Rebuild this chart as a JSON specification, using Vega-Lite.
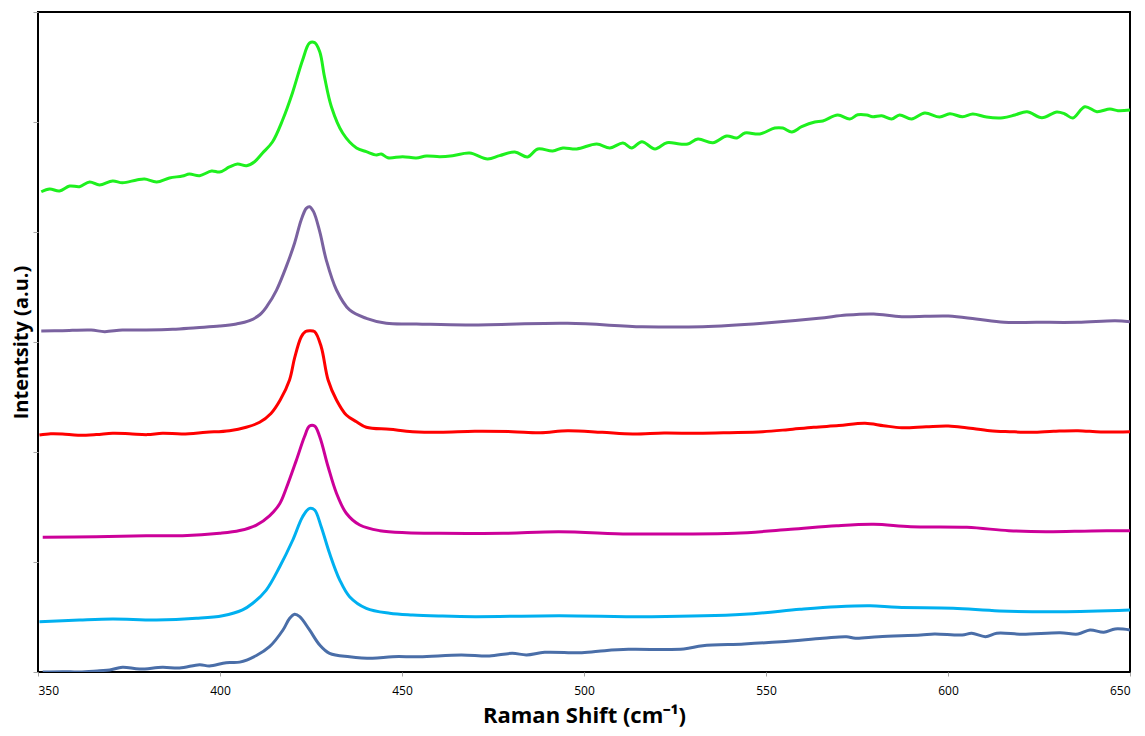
{
  "$schema": "https://vega.github.io/schema/vega-lite/v6.json",
  "autosize": "none",
  "width": 1092,
  "height": 660,
  "padding": {"left": 38, "top": 12, "right": 15, "bottom": 64},
  "background": "white",
  "config": {
    "view": {"stroke": "#000000", "strokeWidth": 2},
    "font": "Open Sans"
  },
  "datasets": {
    "spectra": [
      {"s": "G", "x": 350.9, "y": 4.366}, {"s": "G", "x": 353.2, "y": 4.391}, {"s": "G", "x": 355.9, "y": 4.373}, {"s": "G", "x": 358.7, "y": 4.418}, {"s": "G", "x": 361.4, "y": 4.412}, {"s": "G", "x": 364.2, "y": 4.455}, {"s": "G", "x": 366.9, "y": 4.427}, {"s": "G", "x": 370.5, "y": 4.464}, {"s": "G", "x": 373.2, "y": 4.448}, {"s": "G", "x": 377.1, "y": 4.473}, {"s": "G", "x": 379.3, "y": 4.482}, {"s": "G", "x": 382.6, "y": 4.455}, {"s": "G", "x": 386.1, "y": 4.491}, {"s": "G", "x": 389.7, "y": 4.509}, {"s": "G", "x": 391.6, "y": 4.527}, {"s": "G", "x": 394.4, "y": 4.512}, {"s": "G", "x": 397.7, "y": 4.555}, {"s": "G", "x": 399.9, "y": 4.545}, {"s": "G", "x": 402.6, "y": 4.591}, {"s": "G", "x": 404.8, "y": 4.618}, {"s": "G", "x": 407.3, "y": 4.603}, {"s": "G", "x": 409.5, "y": 4.639}, {"s": "G", "x": 411.7, "y": 4.718}, {"s": "G", "x": 414.4, "y": 4.818}, {"s": "G", "x": 417.2, "y": 5.018}, {"s": "G", "x": 419.9, "y": 5.264}, {"s": "G", "x": 422.7, "y": 5.564}, {"s": "G", "x": 424.6, "y": 5.718}, {"s": "G", "x": 426.0, "y": 5.721}, {"s": "G", "x": 427.4, "y": 5.639}, {"s": "G", "x": 428.7, "y": 5.412}, {"s": "G", "x": 430.6, "y": 5.139}, {"s": "G", "x": 433.7, "y": 4.9}, {"s": "G", "x": 437.5, "y": 4.764}, {"s": "G", "x": 440.2, "y": 4.73}, {"s": "G", "x": 443.0, "y": 4.7}, {"s": "G", "x": 444.3, "y": 4.709}, {"s": "G", "x": 446.1, "y": 4.675}, {"s": "G", "x": 450.2, "y": 4.685}, {"s": "G", "x": 453.9, "y": 4.673}, {"s": "G", "x": 456.7, "y": 4.691}, {"s": "G", "x": 460.4, "y": 4.685}, {"s": "G", "x": 463.9, "y": 4.694}, {"s": "G", "x": 468.6, "y": 4.718}, {"s": "G", "x": 473.5, "y": 4.664}, {"s": "G", "x": 476.8, "y": 4.694}, {"s": "G", "x": 481.0, "y": 4.727}, {"s": "G", "x": 484.5, "y": 4.682}, {"s": "G", "x": 487.3, "y": 4.755}, {"s": "G", "x": 491.4, "y": 4.736}, {"s": "G", "x": 494.2, "y": 4.764}, {"s": "G", "x": 498.0, "y": 4.755}, {"s": "G", "x": 503.5, "y": 4.8}, {"s": "G", "x": 507.1, "y": 4.764}, {"s": "G", "x": 510.7, "y": 4.809}, {"s": "G", "x": 513.1, "y": 4.764}, {"s": "G", "x": 515.9, "y": 4.821}, {"s": "G", "x": 519.5, "y": 4.755}, {"s": "G", "x": 522.8, "y": 4.812}, {"s": "G", "x": 526.3, "y": 4.8}, {"s": "G", "x": 528.5, "y": 4.8}, {"s": "G", "x": 531.3, "y": 4.845}, {"s": "G", "x": 535.4, "y": 4.812}, {"s": "G", "x": 539.2, "y": 4.873}, {"s": "G", "x": 542.0, "y": 4.855}, {"s": "G", "x": 544.2, "y": 4.9}, {"s": "G", "x": 548.3, "y": 4.891}, {"s": "G", "x": 552.4, "y": 4.945}, {"s": "G", "x": 554.6, "y": 4.945}, {"s": "G", "x": 557.1, "y": 4.909}, {"s": "G", "x": 559.8, "y": 4.957}, {"s": "G", "x": 563.4, "y": 5.0}, {"s": "G", "x": 565.6, "y": 5.009}, {"s": "G", "x": 569.7, "y": 5.064}, {"s": "G", "x": 573.0, "y": 5.027}, {"s": "G", "x": 575.2, "y": 5.066}, {"s": "G", "x": 577.7, "y": 5.064}, {"s": "G", "x": 579.3, "y": 5.048}, {"s": "G", "x": 581.8, "y": 5.057}, {"s": "G", "x": 584.5, "y": 5.027}, {"s": "G", "x": 586.7, "y": 5.064}, {"s": "G", "x": 590.0, "y": 5.027}, {"s": "G", "x": 593.6, "y": 5.082}, {"s": "G", "x": 597.7, "y": 5.045}, {"s": "G", "x": 600.5, "y": 5.075}, {"s": "G", "x": 604.0, "y": 5.048}, {"s": "G", "x": 606.8, "y": 5.073}, {"s": "G", "x": 610.6, "y": 5.045}, {"s": "G", "x": 615.1, "y": 5.039}, {"s": "G", "x": 618.4, "y": 5.064}, {"s": "G", "x": 621.7, "y": 5.094}, {"s": "G", "x": 625.8, "y": 5.039}, {"s": "G", "x": 629.9, "y": 5.091}, {"s": "G", "x": 632.1, "y": 5.073}, {"s": "G", "x": 634.3, "y": 5.036}, {"s": "G", "x": 637.6, "y": 5.139}, {"s": "G", "x": 640.9, "y": 5.094}, {"s": "G", "x": 644.5, "y": 5.118}, {"s": "G", "x": 646.7, "y": 5.103}, {"s": "G", "x": 650.0, "y": 5.109},

      {"s": "P", "x": 350.9, "y": 3.1}, {"s": "P", "x": 356.7, "y": 3.103}, {"s": "P", "x": 364.6, "y": 3.109}, {"s": "P", "x": 368.3, "y": 3.094}, {"s": "P", "x": 373.2, "y": 3.109}, {"s": "P", "x": 379.7, "y": 3.109}, {"s": "P", "x": 387.0, "y": 3.115}, {"s": "P", "x": 393.5, "y": 3.13}, {"s": "P", "x": 399.9, "y": 3.145}, {"s": "P", "x": 404.5, "y": 3.164}, {"s": "P", "x": 408.1, "y": 3.194}, {"s": "P", "x": 411.0, "y": 3.25}, {"s": "P", "x": 413.0, "y": 3.33}, {"s": "P", "x": 415.5, "y": 3.47}, {"s": "P", "x": 418.2, "y": 3.685}, {"s": "P", "x": 420.5, "y": 3.9}, {"s": "P", "x": 422.3, "y": 4.109}, {"s": "P", "x": 423.7, "y": 4.215}, {"s": "P", "x": 424.6, "y": 4.23}, {"s": "P", "x": 425.7, "y": 4.185}, {"s": "P", "x": 427.4, "y": 4.003}, {"s": "P", "x": 429.2, "y": 3.745}, {"s": "P", "x": 432.0, "y": 3.473}, {"s": "P", "x": 435.6, "y": 3.291}, {"s": "P", "x": 440.2, "y": 3.215}, {"s": "P", "x": 445.7, "y": 3.17}, {"s": "P", "x": 454.0, "y": 3.164}, {"s": "P", "x": 467.5, "y": 3.155}, {"s": "P", "x": 495.5, "y": 3.17}, {"s": "P", "x": 516.0, "y": 3.139}, {"s": "P", "x": 532.6, "y": 3.139}, {"s": "P", "x": 549.1, "y": 3.17}, {"s": "P", "x": 564.5, "y": 3.215}, {"s": "P", "x": 572.1, "y": 3.245}, {"s": "P", "x": 579.6, "y": 3.255}, {"s": "P", "x": 587.3, "y": 3.23}, {"s": "P", "x": 600.1, "y": 3.236}, {"s": "P", "x": 607.7, "y": 3.209}, {"s": "P", "x": 615.4, "y": 3.179}, {"s": "P", "x": 624.3, "y": 3.179}, {"s": "P", "x": 635.7, "y": 3.179}, {"s": "P", "x": 645.9, "y": 3.194}, {"s": "P", "x": 650.0, "y": 3.185},

      {"s": "R", "x": 350.4, "y": 2.155}, {"s": "R", "x": 353.5, "y": 2.166}, {"s": "R", "x": 356.7, "y": 2.164}, {"s": "R", "x": 361.0, "y": 2.152}, {"s": "R", "x": 366.0, "y": 2.158}, {"s": "R", "x": 370.5, "y": 2.17}, {"s": "R", "x": 375.1, "y": 2.166}, {"s": "R", "x": 380.0, "y": 2.158}, {"s": "R", "x": 384.2, "y": 2.17}, {"s": "R", "x": 389.7, "y": 2.164}, {"s": "R", "x": 396.2, "y": 2.179}, {"s": "R", "x": 402.6, "y": 2.194}, {"s": "R", "x": 407.2, "y": 2.225}, {"s": "R", "x": 410.9, "y": 2.27}, {"s": "R", "x": 414.0, "y": 2.35}, {"s": "R", "x": 416.5, "y": 2.47}, {"s": "R", "x": 419.1, "y": 2.655}, {"s": "R", "x": 420.5, "y": 2.855}, {"s": "R", "x": 422.3, "y": 3.045}, {"s": "R", "x": 423.5, "y": 3.095}, {"s": "R", "x": 424.6, "y": 3.103}, {"s": "R", "x": 426.0, "y": 3.094}, {"s": "R", "x": 427.8, "y": 2.957}, {"s": "R", "x": 429.7, "y": 2.655}, {"s": "R", "x": 432.0, "y": 2.473}, {"s": "R", "x": 434.7, "y": 2.336}, {"s": "R", "x": 437.5, "y": 2.275}, {"s": "R", "x": 440.2, "y": 2.225}, {"s": "R", "x": 446.6, "y": 2.206}, {"s": "R", "x": 452.9, "y": 2.185}, {"s": "R", "x": 460.4, "y": 2.179}, {"s": "R", "x": 470.0, "y": 2.188}, {"s": "R", "x": 480.3, "y": 2.185}, {"s": "R", "x": 488.0, "y": 2.176}, {"s": "R", "x": 495.5, "y": 2.194}, {"s": "R", "x": 505.0, "y": 2.179}, {"s": "R", "x": 513.4, "y": 2.164}, {"s": "R", "x": 522.0, "y": 2.173}, {"s": "R", "x": 531.3, "y": 2.17}, {"s": "R", "x": 540.0, "y": 2.176}, {"s": "R", "x": 549.1, "y": 2.185}, {"s": "R", "x": 556.0, "y": 2.203}, {"s": "R", "x": 563.1, "y": 2.225}, {"s": "R", "x": 570.0, "y": 2.24}, {"s": "R", "x": 577.2, "y": 2.261}, {"s": "R", "x": 582.3, "y": 2.239}, {"s": "R", "x": 587.3, "y": 2.221}, {"s": "R", "x": 594.0, "y": 2.23}, {"s": "R", "x": 600.1, "y": 2.236}, {"s": "R", "x": 605.0, "y": 2.221}, {"s": "R", "x": 611.5, "y": 2.194}, {"s": "R", "x": 617.0, "y": 2.185}, {"s": "R", "x": 623.0, "y": 2.179}, {"s": "R", "x": 629.0, "y": 2.188}, {"s": "R", "x": 635.7, "y": 2.194}, {"s": "R", "x": 642.0, "y": 2.182}, {"s": "R", "x": 650.0, "y": 2.185},

      {"s": "M", "x": 351.3, "y": 1.225}, {"s": "M", "x": 366.0, "y": 1.23}, {"s": "M", "x": 379.7, "y": 1.239}, {"s": "M", "x": 389.7, "y": 1.239}, {"s": "M", "x": 399.9, "y": 1.261}, {"s": "M", "x": 405.4, "y": 1.286}, {"s": "M", "x": 410.0, "y": 1.336}, {"s": "M", "x": 413.6, "y": 1.42}, {"s": "M", "x": 416.4, "y": 1.53}, {"s": "M", "x": 418.2, "y": 1.67}, {"s": "M", "x": 421.0, "y": 1.927}, {"s": "M", "x": 423.2, "y": 2.139}, {"s": "M", "x": 424.6, "y": 2.236}, {"s": "M", "x": 426.0, "y": 2.236}, {"s": "M", "x": 427.4, "y": 2.139}, {"s": "M", "x": 429.7, "y": 1.866}, {"s": "M", "x": 432.0, "y": 1.625}, {"s": "M", "x": 434.7, "y": 1.443}, {"s": "M", "x": 438.4, "y": 1.336}, {"s": "M", "x": 443.9, "y": 1.285}, {"s": "M", "x": 451.2, "y": 1.266}, {"s": "M", "x": 460.4, "y": 1.261}, {"s": "M", "x": 477.8, "y": 1.261}, {"s": "M", "x": 493.1, "y": 1.275}, {"s": "M", "x": 512.2, "y": 1.255}, {"s": "M", "x": 526.2, "y": 1.255}, {"s": "M", "x": 541.4, "y": 1.261}, {"s": "M", "x": 556.8, "y": 1.297}, {"s": "M", "x": 569.4, "y": 1.33}, {"s": "M", "x": 579.6, "y": 1.343}, {"s": "M", "x": 589.8, "y": 1.321}, {"s": "M", "x": 605.2, "y": 1.315}, {"s": "M", "x": 616.7, "y": 1.285}, {"s": "M", "x": 626.9, "y": 1.275}, {"s": "M", "x": 639.5, "y": 1.282}, {"s": "M", "x": 650.0, "y": 1.285},

      {"s": "C", "x": 350.4, "y": 0.457}, {"s": "C", "x": 361.4, "y": 0.473}, {"s": "C", "x": 370.5, "y": 0.482}, {"s": "C", "x": 382.5, "y": 0.473}, {"s": "C", "x": 393.5, "y": 0.488}, {"s": "C", "x": 400.7, "y": 0.512}, {"s": "C", "x": 406.2, "y": 0.565}, {"s": "C", "x": 409.0, "y": 0.625}, {"s": "C", "x": 412.7, "y": 0.745}, {"s": "C", "x": 416.4, "y": 0.957}, {"s": "C", "x": 420.0, "y": 1.2}, {"s": "C", "x": 422.7, "y": 1.412}, {"s": "C", "x": 424.6, "y": 1.488}, {"s": "C", "x": 426.0, "y": 1.473}, {"s": "C", "x": 427.8, "y": 1.321}, {"s": "C", "x": 430.1, "y": 1.079}, {"s": "C", "x": 432.9, "y": 0.836}, {"s": "C", "x": 435.6, "y": 0.685}, {"s": "C", "x": 440.2, "y": 0.579}, {"s": "C", "x": 446.6, "y": 0.534}, {"s": "C", "x": 452.9, "y": 0.518}, {"s": "C", "x": 460.4, "y": 0.509}, {"s": "C", "x": 470.1, "y": 0.503}, {"s": "C", "x": 493.1, "y": 0.512}, {"s": "C", "x": 518.6, "y": 0.503}, {"s": "C", "x": 544.0, "y": 0.525}, {"s": "C", "x": 559.3, "y": 0.57}, {"s": "C", "x": 569.4, "y": 0.594}, {"s": "C", "x": 578.6, "y": 0.603}, {"s": "C", "x": 586.1, "y": 0.588}, {"s": "C", "x": 601.4, "y": 0.579}, {"s": "C", "x": 614.1, "y": 0.555}, {"s": "C", "x": 630.8, "y": 0.548}, {"s": "C", "x": 650.0, "y": 0.564},

      {"s": "B", "x": 351.3, "y": 0.0}, {"s": "B", "x": 356.8, "y": 0.003}, {"s": "B", "x": 361.4, "y": 0.0}, {"s": "B", "x": 366.9, "y": 0.012}, {"s": "B", "x": 369.7, "y": 0.018}, {"s": "B", "x": 373.2, "y": 0.043}, {"s": "B", "x": 377.9, "y": 0.027}, {"s": "B", "x": 384.2, "y": 0.043}, {"s": "B", "x": 388.9, "y": 0.036}, {"s": "B", "x": 394.4, "y": 0.066}, {"s": "B", "x": 397.1, "y": 0.055}, {"s": "B", "x": 401.7, "y": 0.085}, {"s": "B", "x": 405.4, "y": 0.09}, {"s": "B", "x": 410.0, "y": 0.15}, {"s": "B", "x": 413.6, "y": 0.23}, {"s": "B", "x": 417.3, "y": 0.382}, {"s": "B", "x": 419.1, "y": 0.486}, {"s": "B", "x": 420.5, "y": 0.525}, {"s": "B", "x": 421.9, "y": 0.503}, {"s": "B", "x": 424.6, "y": 0.382}, {"s": "B", "x": 427.4, "y": 0.245}, {"s": "B", "x": 430.1, "y": 0.17}, {"s": "B", "x": 435.6, "y": 0.139}, {"s": "B", "x": 441.9, "y": 0.125}, {"s": "B", "x": 447.4, "y": 0.139}, {"s": "B", "x": 454.8, "y": 0.139}, {"s": "B", "x": 466.3, "y": 0.155}, {"s": "B", "x": 474.0, "y": 0.145}, {"s": "B", "x": 480.3, "y": 0.17}, {"s": "B", "x": 484.2, "y": 0.155}, {"s": "B", "x": 489.2, "y": 0.179}, {"s": "B", "x": 499.4, "y": 0.175}, {"s": "B", "x": 505.7, "y": 0.194}, {"s": "B", "x": 512.2, "y": 0.206}, {"s": "B", "x": 527.4, "y": 0.209}, {"s": "B", "x": 532.6, "y": 0.239}, {"s": "B", "x": 544.0, "y": 0.255}, {"s": "B", "x": 554.2, "y": 0.275}, {"s": "B", "x": 565.6, "y": 0.306}, {"s": "B", "x": 572.1, "y": 0.321}, {"s": "B", "x": 574.6, "y": 0.306}, {"s": "B", "x": 581.0, "y": 0.321}, {"s": "B", "x": 592.5, "y": 0.336}, {"s": "B", "x": 596.3, "y": 0.345}, {"s": "B", "x": 603.9, "y": 0.336}, {"s": "B", "x": 606.5, "y": 0.352}, {"s": "B", "x": 610.3, "y": 0.321}, {"s": "B", "x": 613.4, "y": 0.352}, {"s": "B", "x": 620.5, "y": 0.343}, {"s": "B", "x": 630.8, "y": 0.357}, {"s": "B", "x": 635.7, "y": 0.345}, {"s": "B", "x": 639.0, "y": 0.382}, {"s": "B", "x": 642.8, "y": 0.361}, {"s": "B", "x": 645.9, "y": 0.391}, {"s": "B", "x": 650.0, "y": 0.382}
    ]
  },
  "data": {"name": "spectra"},
  "mark": {"type": "line", "strokeWidth": 3, "interpolate": "catmull-rom", "clip": true},
  "encoding": {
    "x": {
      "field": "x",
      "type": "quantitative",
      "scale": {"domain": [350, 650], "nice": false, "zero": false},
      "axis": {
        "values": [350, 400, 450, 500, 550, 600, 650],
        "domain": false,
        "grid": false,
        "tickColor": "#a6a6a6",
        "tickSize": 4,
        "labelFontSize": 12,
        "labelColor": "#000000",
        "labelPadding": 9,
        "title": "Raman Shift (cm⁻¹)",
        "titleFontSize": 22,
        "titleFontWeight": "bold",
        "titleColor": "#000000",
        "titlePadding": 9
      }
    },
    "y": {
      "field": "y",
      "type": "quantitative",
      "scale": {"domain": [0, 6], "nice": false, "zero": true},
      "axis": {
        "values": [0, 1, 2, 3, 4, 5, 6],
        "labels": false,
        "domain": false,
        "grid": false,
        "tickColor": "#a6a6a6",
        "tickSize": 5,
        "title": "Intentsity (a.u.)",
        "titleFontSize": 20,
        "titleFontWeight": "bold",
        "titleColor": "#000000",
        "titlePadding": 1
      }
    },
    "color": {
      "field": "s",
      "type": "nominal",
      "scale": {
        "domain": ["G", "P", "R", "M", "C", "B"],
        "range": ["#1ef01e", "#7a62a0", "#ff0000", "#cc0099", "#00b0f0", "#4a6ea8"]
      },
      "legend": null
    },
    "detail": {"field": "s"}
  }
}
